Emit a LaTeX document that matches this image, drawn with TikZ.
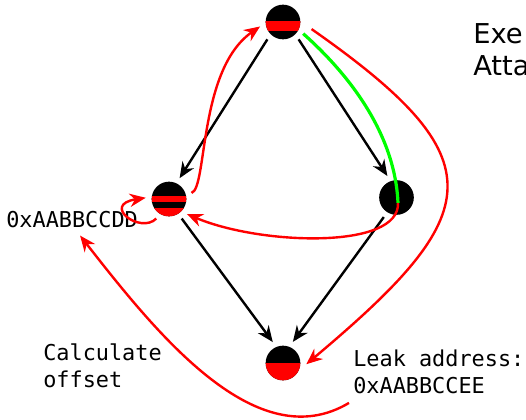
\documentclass[tikz,border=0pt]{standalone}
\usepackage{fontspec}
\setmainfont{DejaVu Sans}
\setmonofont{DejaVu Sans Mono}
\usetikzlibrary{arrows.meta}

\begin{document}
\begin{tikzpicture}[>={Stealth[length=12pt, width=10pt]}, x=0.75pt, y=0.75pt,
        vertex/.style={circle, fill=black, minimum size=26pt, inner sep=0pt, outer sep=4.5pt},
        flow/.style={->, line width=1.8pt},
        leak/.style={->, red, line width=1.8pt},
        code/.style={font=\ttfamily\fontsize{16.4}{20}\selectfont, align=left, inner sep=0pt}]
            \useasboundingbox (0,0) rectangle (526,-419);
            \clip (0,0) rectangle (526,-419);

            \node[vertex, path picture={\fill[red] (path picture bounding box.center) ++(-20,1.5) rectangle ++(40,-10);}] (start) at (283,-22) {};
            \node[vertex, path picture={\fill[red] (path picture bounding box.center) ++(-20,3.3) rectangle ++(40,-6.7);
                \fill[red] (path picture bounding box.center) ++(-20,-8.7) rectangle ++(40,-20);}] (gadget) at (169,-199) {};
            \node[vertex] (hijack) at (396.5,-197.5) {};
            \node[vertex, path picture={\fill[red] (path picture bounding box.center) ++(-20,0) rectangle ++(40,-20);}] (target) at (283,-363) {};

            \node[anchor=base west, align=left, inner sep=0pt, font=\fontsize{20.5}{24}\selectfont] (title) at (473,-75) {Exe\\Atta};
            \node[code, anchor=base west] (olddd) at (6,-227) {0xAABBCCDD};
            \node[code, anchor=base west] (calc) at (43,-387) {Calculate\\offset};
            \node[code, anchor=base west] (leakee) at (353,-393) {Leak address:\\0xAABBCCEE};
            \coordinate (pivot) at (398,-203);

            \foreach \i/\j in {start.228/gadget.63, start.312/hijack.113, gadget.-57/target.116, hijack.237/target.65} {
                \draw[flow] (\i) -- (\j);
            }

            \draw[green, line width=2.4pt] (start.-30) .. controls +(45,-40) and +(-3,70) .. (pivot);
            \draw[leak] (pivot) .. controls +(2,-47) and +(73,-31) .. (gadget.-40);
            \draw[leak] (gadget.15) .. controls +(16,5) and +(-62,-43) .. (start.191);
            \draw[leak] (gadget.237) .. controls +(-16,-16) and +(-45,-7) .. (gadget.177);
            \draw[leak, shorten <=5pt] (start.-8) .. controls +(-35:235) and +(40:235) .. (target.-3);
            \draw[leak] ([xshift=-3pt, yshift=-7pt]leakee.south west) .. controls +(-92,-55) and +(78,-100) .. ([xshift=6pt, yshift=-6pt]olddd.south);
        \end{tikzpicture}
\end{document}
